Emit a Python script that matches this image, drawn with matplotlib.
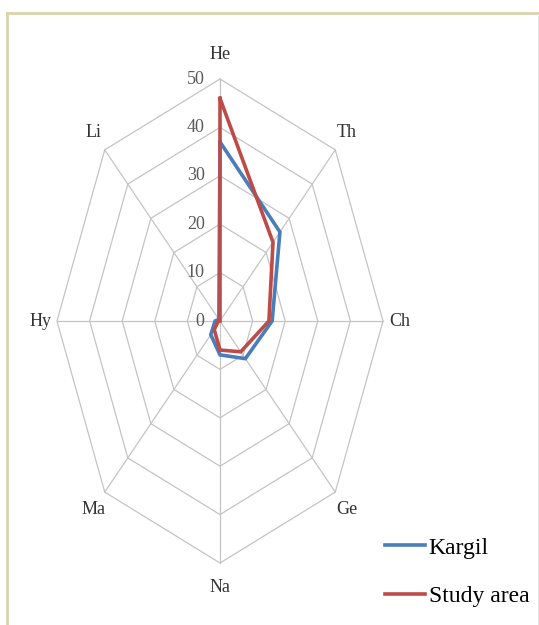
import numpy as np
import matplotlib
matplotlib.use("Agg")
import matplotlib.pyplot as plt
from matplotlib.lines import Line2D

plt.rcParams['font.family'] = ['Liberation Serif', 'DejaVu Serif']

# Parameters on each spoke, clockwise from the top
categories = ["He", "Th", "Ch", "Ge", "Na", "Ma", "Hy", "Li"]
kargil = [37, 26, 16, 11, 7, 4, 1.5, 0.5]
study_area = [46, 23, 15, 9, 6, 2.5, 0.5, 0]
ring_ticks = [0, 10, 20, 30, 40, 50]
series_names = ["Kargil", "Study area"]
series_colors = ["#4A7EBB", "#BE4B48"]

W, H, DPI = 539, 625, 100
fig = plt.figure(figsize=(W / DPI, H / DPI), dpi=DPI)
ax = fig.add_axes([0, 0, 1, 1])
ax.axis("off")

# Web centre in pixels and pixel size of one value unit along x / y
cx, cy = 220, 321
rmax = ring_ticks[-1]
ux, uy = 163 / rmax, 242 / rmax
ax.set_xlim(-cx / ux, (W - cx) / ux)
ax.set_ylim(-(H - cy) / uy, cy / uy)

n = len(categories)
theta = np.arange(n) * 2 * np.pi / n


def to_xy(vals):
    vals = np.asarray(vals, dtype=float)
    return vals * np.sin(theta), vals * np.cos(theta)


# Grid: octagonal rings and spokes
grid_kw = dict(color="#C4C4C4", lw=0.9, zorder=1)
for t in ring_ticks[1:]:
    gx, gy = to_xy([t] * n)
    ax.plot(np.append(gx, gx[0]), np.append(gy, gy[0]), **grid_kw)
sx, sy = to_xy([rmax] * n)
for x_end, y_end in zip(sx, sy):
    ax.plot([0, x_end], [0, y_end], **grid_kw)

# Ring value labels along the top spoke
for t in ring_ticks:
    ax.annotate(str(t), (0, t), xytext=(-11, 0), textcoords="offset points",
                ha="right", va="center", fontsize=13, color="#595959")

# Spoke labels
lx, ly = to_xy([rmax * 1.1] * n)
for name, x, y in zip(categories, lx, ly):
    ax.text(x, y, name, ha="center", va="center", fontsize=13, color="#333333")

# Data series
for vals, name, col in zip([kargil, study_area], series_names, series_colors):
    px, py = to_xy(vals)
    ax.plot(np.append(px, px[0]), np.append(py, py[0]), color=col, lw=2.6,
            solid_joinstyle="miter", label=name, zorder=3)

leg = ax.legend(loc="upper left", bbox_to_anchor=(385 / W, 1 - 537 / H),
                bbox_transform=fig.transFigure, frameon=False, fontsize=17,
                handlelength=1.7, handletextpad=0.15, labelspacing=1.15,
                borderpad=0, borderaxespad=0)

# Outer frame
frame_col = "#D8D4AE"
fig.add_artist(Line2D([7 / W, 1], [1 - 13 / H, 1 - 13 / H], transform=fig.transFigure,
                      color=frame_col, lw=2))
fig.add_artist(Line2D([7 / W, 7 / W], [0, 1 - 13 / H], transform=fig.transFigure,
                      color=frame_col, lw=2))
fig.add_artist(Line2D([537.5 / W, 537.5 / W], [0, 1 - 14 / H], transform=fig.transFigure,
                      color="#E6E6E6", lw=0.8))

fig.savefig("out.png", dpi=DPI)
